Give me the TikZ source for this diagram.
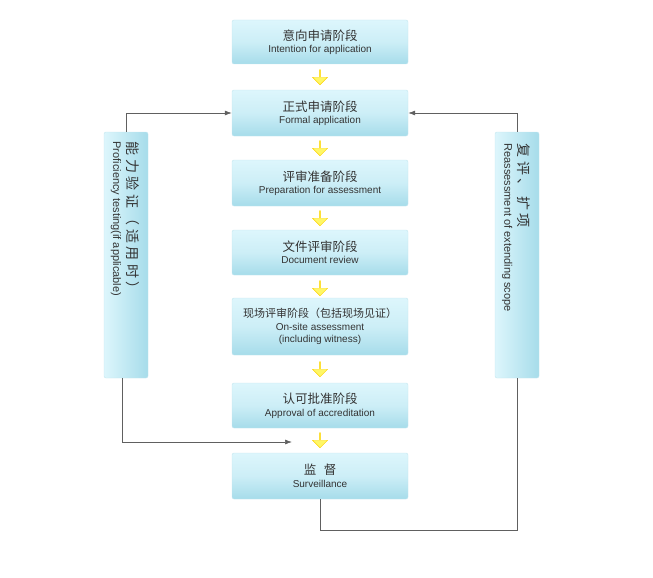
\documentclass[tikz,border=0pt]{standalone}
\usepackage{fontspec}
\setmainfont{Liberation Sans}
\newfontfamily\cjk{Noto Sans CJK SC}
\usetikzlibrary{shapes.arrows,arrows.meta}
\definecolor{boxtop}{HTML}{DDF6FC}
\definecolor{boxbot}{HTML}{A6DCEA}
\definecolor{boxedge}{HTML}{C4E6EF}
\definecolor{txt}{HTML}{333333}
\definecolor{ln}{HTML}{606060}
\tikzset{
 stagebox/.style={draw=boxedge, rounded corners=2pt, top color=boxtop, bottom color=boxbot, middle color=boxtop!70!boxbot,
   minimum width=176pt, text=txt, align=center, font=\fontsize{10}{12.5}\selectfont, inner sep=2pt},
 sidebox/.style={draw=boxedge, rounded corners=2pt, left color=boxtop, right color=boxbot,
   minimum width=44pt, minimum height=246pt},
 sidetext/.style={rotate=-90, anchor=west, align=left, text=txt, font=\fontsize{10.5}{14}\selectfont},
 downarr/.style={single arrow, draw=yellow!70!orange, fill=yellow!60, shape border rotate=270,
   minimum height=15pt, minimum width=15pt, single arrow head extend=2.5pt, inner sep=0pt},
 conn/.style={draw=ln, line width=0.7pt},
 tip/.style={-{Latex[length=7pt,width=5pt]}}
}
\begin{document}
\begin{tikzpicture}[x=1pt,y=-1pt]
\useasboundingbox (0,0) rectangle (653,578);
\def\cx{320}
\node[stagebox,minimum height=44pt] (b1) at (\cx,42) {{\cjk\fontsize{12.5}{15}\selectfont 意向申请阶段}\\Intention for application};
\node[stagebox,minimum height=46pt] (b2) at (\cx,113) {{\cjk\fontsize{12.5}{15}\selectfont 正式申请阶段}\\Formal application};
\node[stagebox,minimum height=46pt] (b3) at (\cx,183) {{\cjk\fontsize{12.5}{15}\selectfont 评审准备阶段}\\Preparation for assessment};
\node[stagebox,minimum height=45pt] (b4) at (\cx,252.5) {{\cjk\fontsize{12.5}{15}\selectfont 文件评审阶段}\\Document review};
\node[stagebox,minimum height=57pt] (b5) at (\cx,326.5) {{\cjk\fontsize{11}{13}\selectfont 现场评审阶段（包括现场见证）}\\On-site assessment\\(including witness)};
\node[stagebox,minimum height=45pt] (b6) at (\cx,405.5) {{\cjk\fontsize{12.5}{15}\selectfont 认可批准阶段}\\Approval of accreditation};
\node[stagebox,minimum height=46pt] (b7) at (\cx,476) {{\cjk\fontsize{12.5}{15}\selectfont 监\hspace{0.6em}督}\\Surveillance};
\foreach \y in {77,148,218,288,369,440} \node[downarr] at (\cx,\y) {};
\node[sidebox] (L) at (126,255) {};
\node[sidetext] at (125,138) {{\cjk\fontsize{14}{16}\selectfont\addfontfeature{LetterSpace=25} 能力验证（适用时）}\\{\fontsize{11}{14}\selectfont Proficiency testing(if applicable)}};
\node[sidebox] (R) at (517,255) {};
\node[sidetext] at (516,140) {{\cjk\fontsize{14}{16}\selectfont\addfontfeature{LetterSpace=25} 复评、扩项}\\{\fontsize{11}{14}\selectfont Reassessment of extending scope}};
\coordinate (lend) at (292,442);
\coordinate (rb) at (322,530);
\draw[conn,tip] (L.north) |- (b2.west);
\draw[conn,tip] (R.north) |- (b2.east);
\draw[conn,tip] (L.south -| 122,0) |- (lend);
\draw[conn] (b7.south) -- (b7.south |- rb) -| (R.south);
\end{tikzpicture}
\end{document}
